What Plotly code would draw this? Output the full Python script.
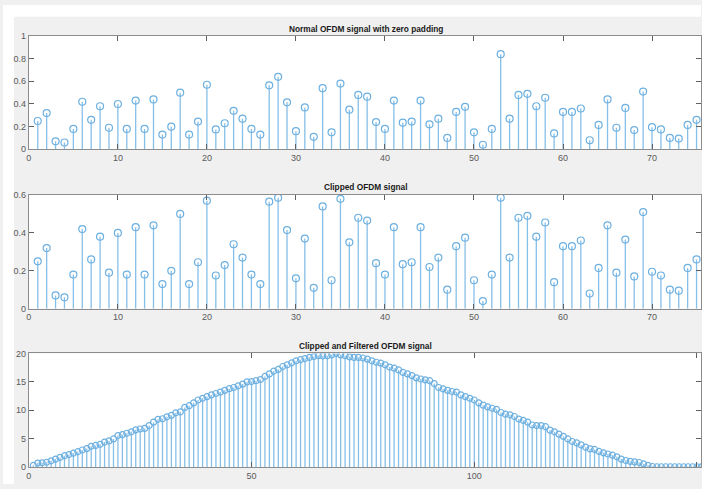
import plotly.graph_objects as go

# ---------------- data ----------------
n_top = list(range(1, 76))
normal_vals = [0.25, 0.32, 0.07, 0.06, 0.18, 0.42, 0.26, 0.38, 0.19, 0.40,
               0.18, 0.43, 0.18, 0.44, 0.13, 0.20, 0.50, 0.13, 0.245, 0.57,
               0.175, 0.23, 0.34, 0.27, 0.18, 0.13, 0.565, 0.64, 0.415, 0.16,
               0.37, 0.11, 0.54, 0.15, 0.58, 0.35, 0.48, 0.465, 0.24, 0.18,
               0.43, 0.235, 0.245, 0.43, 0.22, 0.27, 0.10, 0.33, 0.375, 0.15,
               0.04, 0.18, 0.84, 0.27, 0.48, 0.49, 0.38, 0.455, 0.14, 0.33,
               0.33, 0.36, 0.08, 0.215, 0.44, 0.19, 0.365, 0.17, 0.51, 0.195,
               0.175, 0.10, 0.095, 0.215, 0.26]
clipped_vals = [0.25, 0.32, 0.07, 0.06, 0.18, 0.42, 0.26, 0.38, 0.19, 0.40,
                0.18, 0.43, 0.18, 0.44, 0.13, 0.20, 0.50, 0.13, 0.245, 0.57,
                0.175, 0.23, 0.34, 0.27, 0.18, 0.13, 0.565, 0.586, 0.415, 0.16,
                0.37, 0.11, 0.54, 0.15, 0.58, 0.35, 0.48, 0.465, 0.24, 0.18,
                0.43, 0.235, 0.245, 0.43, 0.22, 0.27, 0.10, 0.33, 0.375, 0.15,
                0.04, 0.18, 0.586, 0.27, 0.48, 0.49, 0.38, 0.455, 0.14, 0.33,
                0.33, 0.36, 0.08, 0.215, 0.44, 0.19, 0.365, 0.17, 0.51, 0.195,
                0.175, 0.10, 0.095, 0.215, 0.26]
n_bot = list(range(1, 152))
filtered_vals = [0.3, 0.7, 0.75, 0.85, 1.1, 1.4, 1.7, 2.0, 2.2, 2.45,
                 2.7, 3.0, 3.25, 3.65, 3.8, 4.0, 4.4, 4.6, 4.95, 5.55,
                 5.7, 5.95, 6.2, 6.55, 6.7, 6.8, 7.3, 7.9, 8.4, 8.5,
                 8.85, 9.1, 9.55, 9.7, 10.5, 10.8, 11.3, 11.8, 12.1, 12.4,
                 12.7, 12.95, 13.2, 13.5, 13.8, 14.0, 14.3, 14.6, 15.0, 15.05,
                 15.2, 15.4, 15.95, 16.4, 16.9, 17.2, 17.7, 18.0, 18.35, 18.7,
                 18.9, 19.1, 19.3, 19.45, 19.6, 19.55, 19.6, 19.75, 20.0, 19.75,
                 19.6, 19.4, 19.3, 19.3, 19.2, 19.0, 18.7, 18.45, 18.3, 18.0,
                 17.6, 17.4, 17.1, 16.65, 16.4, 16.1, 15.7, 15.5, 15.35, 15.2,
                 14.7, 14.0, 13.75, 13.5, 13.3, 13.2, 12.7, 12.4, 12.1, 11.8,
                 11.3, 10.9, 10.6, 10.35, 10.15, 9.6, 9.3, 9.2, 8.9, 8.45,
                 8.2, 7.9, 7.4, 7.3, 7.3, 7.1, 6.5, 6.2, 5.8, 5.4,
                 4.95, 4.5, 4.25, 3.9, 3.5, 3.2, 3.1, 2.75, 2.5, 2.3,
                 2.1, 1.8, 1.4, 1.15, 1.0, 0.9, 0.8, 0.55, 0.3, 0.1,
                 0.05, 0.05, 0.05, 0.05, 0.05, 0.05, 0.05, 0.05, 0.05, 0.05, 0.05]

titles = ["Normal OFDM signal with zero padding", "Clipped OFDM signal",
          "Clipped and Filtered OFDM signal"]
top_xticks = [0, 10, 20, 30, 40, 50, 60, 70]
top_yticks = [0, 0.2, 0.4, 0.6, 0.8, 1]
mid_yticks = [0, 0.2, 0.4, 0.6]
bot_xticks = [0, 50, 100, 150]
bot_yticks = [0, 5, 10, 15, 20]

# ---------------- styling ----------------
W, H = 702, 489
STEM = "#86bfe8"
MARK = "#6db0e0"
AX = "#8c8c8c"
TICKF = dict(family="Liberation Sans, Arial, sans-serif", size=9, color="#5a5a5a")


def ydom(top_px, bot_px):
    return [1 - bot_px / H, 1 - top_px / H]


fig = go.Figure()


def add_stem(xs, ys, xa, ya, msize):
    sx, sy = [], []
    for x, y in zip(xs, ys):
        sx += [x, x, None]
        sy += [0, y, None]
    fig.add_trace(go.Scatter(x=sx, y=sy, mode="lines", xaxis=xa, yaxis=ya,
                             line=dict(color=STEM, width=1.3), hoverinfo="skip",
                             showlegend=False))
    fig.add_trace(go.Scatter(x=xs, y=ys, mode="markers", xaxis=xa, yaxis=ya,
                             marker=dict(symbol="circle-open", size=msize,
                                         color=MARK, line=dict(width=1.2, color=MARK)),
                             showlegend=False))


add_stem(n_top, normal_vals, "x", "y", 7)
add_stem(n_top, clipped_vals, "x2", "y2", 7)
add_stem(n_bot, filtered_vals, "x3", "y3", 6)

x0 = 26 / W
common_x = dict(showgrid=False, zeroline=False, showline=True, linecolor=AX,
                linewidth=1, mirror="ticks", ticks="inside", ticklen=5,
                tickcolor="#606060", tickfont=TICKF)
common_y = dict(showgrid=False, zeroline=False, showline=True, linecolor=AX,
                linewidth=1, mirror="ticks", ticks="inside", ticklen=5,
                tickcolor="#606060", tickfont=TICKF)

fig.update_layout(
    width=W, height=H,
    margin=dict(l=0, r=0, t=0, b=0),
    paper_bgcolor="#f0f0f0",
    plot_bgcolor="white",
    xaxis=dict(domain=[x0, 1], range=[0, 75.5], tickvals=top_xticks, anchor="y", **common_x),
    yaxis=dict(domain=ydom(31.7, 147.3), range=[0, 1], tickvals=top_yticks,
               ticktext=["0", "0.2", "0.4", "0.6", "0.8", "1"], anchor="x", **common_y),
    xaxis2=dict(domain=[x0, 1], range=[0, 75.5], tickvals=top_xticks, anchor="y2", **common_x),
    yaxis2=dict(domain=ydom(194, 310), range=[0, 0.6], tickvals=mid_yticks,
                ticktext=["0", "0.2", "0.4", "0.6"], anchor="x2", **common_y),
    xaxis3=dict(domain=[x0, 1], range=[0, 150.9], tickvals=bot_xticks, anchor="y3", **common_x),
    yaxis3=dict(domain=ydom(355.7, 471.7), range=[0, 20], tickvals=bot_yticks,
                ticktext=["0", "5", "10", "15", "20"], anchor="x3", **common_y),
    shapes=[
        dict(type="rect", xref="paper", yref="paper", x0=0, x1=1, y0=1 - 12 / H, y1=1,
             fillcolor="white", line=dict(width=0), layer="below"),
        dict(type="rect", xref="paper", yref="paper", x0=0, x1=11 / W, y0=0, y1=1,
             fillcolor="white", line=dict(width=0), layer="below"),
    ],
)

for title, py in zip(titles, [24, 186, 348]):
    fig.add_annotation(text="<b>" + title + "</b>", xref="paper", yref="paper",
                       x=365 / W, y=1 - py / H, xanchor="center", yanchor="middle",
                       showarrow=False,
                       font=dict(family="Liberation Sans, Arial, sans-serif", size=8.3,
                                 color="#1a1a1a"))

fig.write_html("out.html", config={"displayModeBar": False},
               post_script="document.body.style.margin='0';"
                           "document.body.style.overflow='hidden';")
